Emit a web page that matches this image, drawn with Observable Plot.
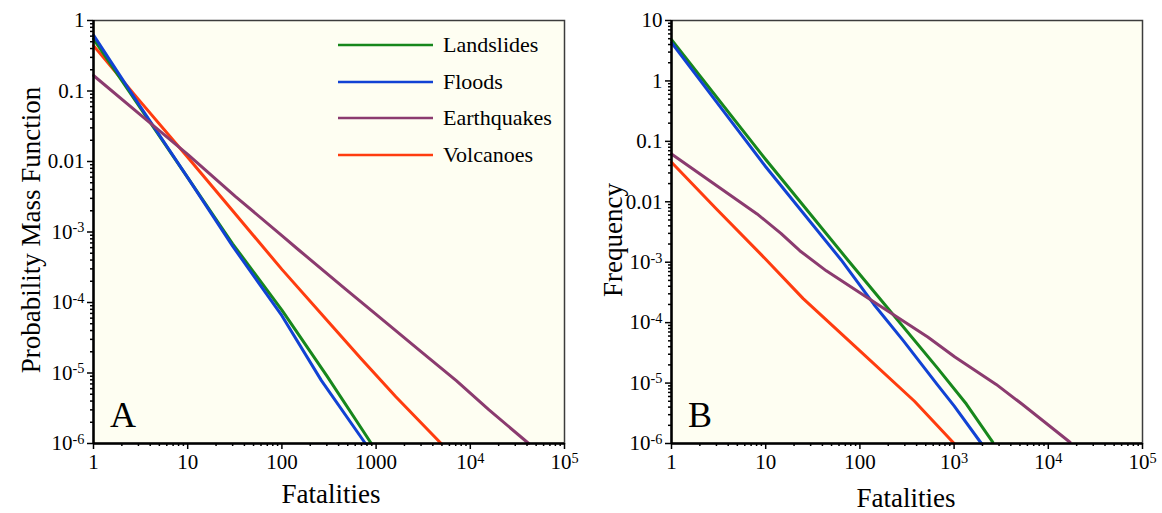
<!DOCTYPE html>
<html><head><meta charset="utf-8">
<script src="https://cdn.jsdelivr.net/npm/d3@7"></script>
<script src="https://cdn.jsdelivr.net/npm/@observablehq/plot@0.6"></script>
<style>
body{margin:0;background:#fff;}
#wrap{display:flex;width:1162px;height:513px;}
svg{display:block}
</style></head><body><div id="wrap"></div>
<script>
// ---- categories & colours ----
const hazards = ["Landslides", "Floods", "Earthquakes", "Volcanoes"];
const hazardColors = ["#17871c", "#1142d4", "#8b3b6f", "#ff3c0f"];
const drawOrder = ["Volcanoes", "Landslides", "Floods", "Earthquakes"];

// ---- Panel A: probability mass function ----
const fatalA_Landslides = [1, 3, 10, 30, 100, 300, 890];
const pmfA_Landslides   = [0.55, 0.063, 5.9e-3, 6.8e-4, 7.8e-5, 9.1e-6, 1e-6];
const fatalA_Floods     = [1, 3, 10, 30, 100, 263, 770];
const pmfA_Floods       = [0.62, 0.066, 5.9e-3, 6.3e-4, 6.5e-5, 7.8e-6, 1e-6];
const fatalA_Earthquakes = [1, 3.2, 10, 32, 100, 150, 460, 1000, 3160, 7100, 15800, 41700];
const pmfA_Earthquakes   = [0.166, 0.045, 0.0126, 3.2e-3, 8.9e-4, 5.6e-4, 1.6e-4, 6.8e-5, 1.9e-5, 7.8e-6, 3.0e-6, 1e-6];
const fatalA_Volcanoes  = [1, 3, 10, 30, 100, 316, 690, 1620, 4900];
const pmfA_Volcanoes    = [0.44, 0.076, 0.0115, 2.0e-3, 2.95e-4, 5.2e-5, 1.6e-5, 4.6e-6, 1e-6];

// ---- Panel B: frequency ----
const fatalB_Landslides = [1, 10, 74, 170, 660, 1350, 2570];
const freqB_Landslides  = [4.8, 0.05, 1.1e-3, 2.3e-4, 1.8e-5, 4.5e-6, 1.05e-6];
const fatalB_Floods     = [1, 10, 63, 141, 290, 660, 1000, 1950];
const freqB_Floods      = [4.3, 0.038, 1.1e-3, 2.0e-4, 5.0e-5, 9.5e-6, 4.2e-6, 1e-6];
const fatalB_Earthquakes = [1, 8.1, 14.5, 23, 44, 155, 525, 1020, 2800, 5250, 17000];
const freqB_Earthquakes  = [0.062, 6.3e-3, 3.0e-3, 1.55e-3, 7.2e-4, 2.0e-4, 5.8e-5, 2.7e-5, 9.5e-6, 4.5e-6, 1.05e-6];
const fatalB_Volcanoes  = [1, 3, 10, 25, 93, 380, 1000];
const freqB_Volcanoes   = [0.045, 7.6e-3, 1.12e-3, 2.5e-4, 3.8e-5, 5.0e-6, 1e-6];

// ---- tick labels ----
const xTicks = [1, 10, 100, 1000, 1e4, 1e5];
const xLabelsA = ["1", "10", "100", "1000", "10^4", "10^5"];
const xLabelsB = ["1", "10", "100", "10^3", "10^4", "10^5"];
const yTicksA = [1, 0.1, 0.01, 1e-3, 1e-4, 1e-5, 1e-6];
const yLabelsA = ["1", "0.1", "0.01", "10^-3", "10^-4", "10^-5", "10^-6"];
const yTicksB = [10, 1, 0.1, 0.01, 1e-3, 1e-4, 1e-5, 1e-6];
const yLabelsB = ["10", "1", "0.1", "0.01", "10^-3", "10^-4", "10^-5", "10^-6"];

const FONT = "'Liberation Serif', 'Times New Roman', serif";
const BG = "#fefef2";
const ns = "http://www.w3.org/2000/svg";

function rows(xs, ys, h) { return xs.map((x, i) => ({hazard: h, fat: x, val: ys[i]})); }
function minorTicks(lo, hi) {
  const out = [];
  for (let k = Math.round(Math.log10(lo)); k < Math.round(Math.log10(hi)); k++)
    for (let m = 2; m <= 9; m++) out.push(m * Math.pow(10, k));
  return out;
}

function panel(cfg) {
  const colorOf = h => hazardColors[hazards.indexOf(h)];
  const xFmt = new Map(xTicks.map((v, i) => [v, cfg.xLabels[i]]));
  const yFmt = new Map(cfg.yTicks.map((v, i) => [v, cfg.yLabels[i]]));
  const svg = Plot.plot({
    width: 581, height: 513,
    marginLeft: cfg.ml, marginRight: cfg.mr, marginTop: 20, marginBottom: 70,
    x: {type: "log", domain: [1, 1e5], label: null},
    y: {type: "log", domain: cfg.yDomain, label: null},
    style: {fontFamily: FONT, fontSize: "21px", color: "#000", background: "transparent", overflow: "visible"},
    marks: [
      Plot.frame({fill: BG, stroke: "#3c3c3c", strokeWidth: 1.5}),
      ...drawOrder.map(h => Plot.line(cfg.data.filter(d => d.hazard === h),
        {x: "fat", y: "val", stroke: colorOf(h), strokeWidth: 3, strokeLinejoin: "round"})),
      Plot.ruleX([1], {stroke: "#000", strokeWidth: 2.5}),
      Plot.ruleY([cfg.yDomain[0]], {stroke: "#000", strokeWidth: 2.5}),
      Plot.axisX({ticks: minorTicks(1, 1e5), tickSize: 3, tickFormat: () => "", strokeWidth: 1.5, label: null}),
      Plot.axisX({ticks: xTicks, tickSize: 6, tickPadding: 5, tickFormat: d => xFmt.get(d), fontSize: 21, strokeWidth: 1.5, label: null}),
      Plot.axisY({ticks: minorTicks(cfg.yDomain[0], cfg.yDomain[1]), tickSize: 3, tickFormat: () => "", strokeWidth: 1.5, label: null}),
      Plot.axisY({ticks: cfg.yTicks, tickSize: 6, tickPadding: 3, tickFormat: d => yFmt.get(d), fontSize: 21, strokeWidth: 1.5, label: null})
    ]
  });
  // superscripts
  svg.querySelectorAll("text").forEach(t => {
    const m = t.textContent.match(/^10\^(-?\d+)$/);
    if (m) {
      t.textContent = "10";
      const ts = document.createElementNS(ns, "tspan");
      ts.setAttribute("dy", "-0.45em");
      ts.setAttribute("font-size", "0.68em");
      ts.textContent = m[1];
      t.appendChild(ts);
    }
  });
  const s = d3.select(svg);
  // axis titles
  s.append("text").attr("transform", `translate(${cfg.ytX},${cfg.ytY}) rotate(-90)`)
    .attr("text-anchor", "middle").attr("font-size", 27).attr("font-family", FONT).attr("fill", "#000")
    .text(cfg.yTitle);
  s.append("text").attr("x", cfg.xtX).attr("y", cfg.xtY)
    .attr("text-anchor", "middle").attr("font-size", 27).attr("font-family", FONT).attr("fill", "#000")
    .text("Fatalities");
  // panel letter
  s.append("text").attr("x", cfg.ml + 17).attr("y", 427).attr("text-anchor", "start")
    .attr("font-size", 36).attr("font-family", FONT).attr("fill", "#000").text(cfg.letter);
  return svg;
}

const dataA = [
  ...rows(fatalA_Landslides, pmfA_Landslides, "Landslides"),
  ...rows(fatalA_Floods, pmfA_Floods, "Floods"),
  ...rows(fatalA_Earthquakes, pmfA_Earthquakes, "Earthquakes"),
  ...rows(fatalA_Volcanoes, pmfA_Volcanoes, "Volcanoes")
];
const dataB = [
  ...rows(fatalB_Landslides, freqB_Landslides, "Landslides"),
  ...rows(fatalB_Floods, freqB_Floods, "Floods"),
  ...rows(fatalB_Earthquakes, freqB_Earthquakes, "Earthquakes"),
  ...rows(fatalB_Volcanoes, freqB_Volcanoes, "Volcanoes")
];

const svgA = panel({data: dataA, ml: 93, mr: 17, yDomain: [1e-6, 1], yTicks: yTicksA, yLabels: yLabelsA, xLabels: xLabelsA,
  yTitle: "Probability Mass Function", ytX: 40, ytY: 230, xtX: 331, xtY: 503, letter: "A"});
const svgB = panel({data: dataB, ml: 90, mr: 20, yDomain: [1e-6, 10], yTicks: yTicksB, yLabels: yLabelsB, xLabels: xLabelsB,
  yTitle: "Frequency", ytX: 41, ytY: 240, xtX: 325, xtY: 507, letter: "B"});

// legend in panel A
const lg = d3.select(svgA).append("g").attr("text-anchor", "start");
hazards.forEach((h, i) => {
  const y = [45, 82, 118, 155][i];
  lg.append("line").attr("x1", 338).attr("x2", 433).attr("y1", y).attr("y2", y)
    .attr("stroke", hazardColors[i]).attr("stroke-width", 2.5);
  lg.append("text").attr("x", 443).attr("y", y + 7).attr("font-size", 22).attr("font-family", FONT)
    .attr("fill", "#000").text(h);
});

document.getElementById("wrap").append(svgA, svgB);
</script></body></html>
